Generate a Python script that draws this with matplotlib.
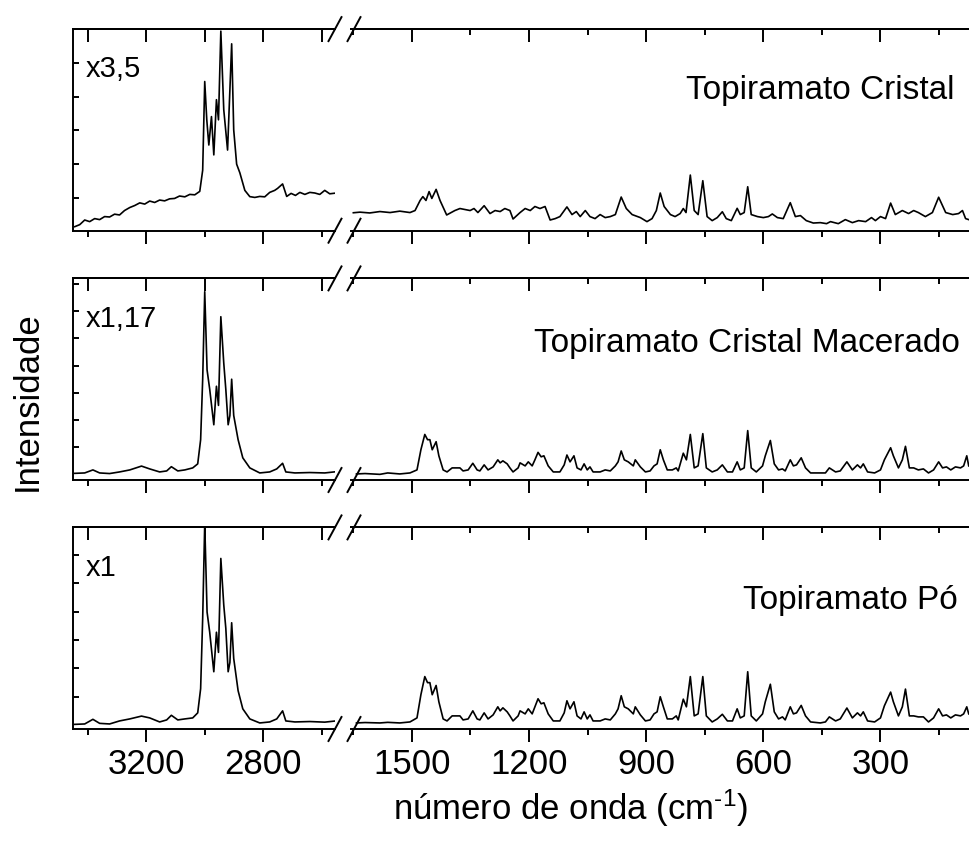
import matplotlib
matplotlib.use("Agg")
import matplotlib.pyplot as plt
from matplotlib.lines import Line2D

plt.rcParams["font.family"] = ["Liberation Sans", "DejaVu Sans"]
plt.rcParams["mathtext.fontset"] = "custom"
plt.rcParams["mathtext.rm"] = "Liberation Sans"
plt.rcParams["mathtext.it"] = "Liberation Sans:italic"


# Raman spectra (intensity scaled to panel height)

# CH stretching region, top panel (Topiramato Cristal)
wn_ch1 = [3444, 3427, 3410, 3393, 3376, 3359, 3342, 3325, 3308, 3291,
          3274, 3256, 3239, 3222, 3205, 3188, 3171, 3154, 3137, 3120,
          3103, 3086, 3068, 3051, 3034, 3017, 3007, 3000, 2993, 2986,
          2977, 2969, 2960, 2953, 2945, 2935, 2922, 2908, 2901, 2891,
          2880, 2863, 2846, 2829, 2812, 2795, 2778, 2761, 2751, 2734,
          2720, 2705, 2690, 2675, 2658, 2641, 2624, 2607, 2590, 2573,
          2556]
p1_ch = [0.02, 0.03, 0.053, 0.045, 0.06, 0.055, 0.07, 0.068, 0.082, 0.078,
         0.1, 0.115, 0.125, 0.138, 0.132, 0.147, 0.14, 0.152, 0.148, 0.158,
         0.16, 0.172, 0.168, 0.18, 0.178, 0.195, 0.3, 0.74, 0.55, 0.425,
         0.566, 0.376, 0.65, 0.55, 0.99, 0.6, 0.4, 0.927, 0.5, 0.33,
         0.287, 0.2, 0.169, 0.165, 0.17, 0.168, 0.19, 0.2, 0.21, 0.232,
         0.17, 0.185, 0.175, 0.19, 0.18, 0.19, 0.187, 0.18, 0.2, 0.183,
         0.186]

# CH stretching region, middle and bottom panels
wn_ch = [3444, 3410, 3382, 3359, 3325, 3291, 3256, 3216, 3188, 3154,
         3130, 3114, 3092, 3068, 3041, 3024, 3014, 3007, 3000, 2992,
         2983, 2969, 2960, 2953, 2945, 2935, 2928, 2920, 2914, 2908,
         2901, 2886, 2870, 2846, 2812, 2778, 2754, 2734, 2723, 2692,
         2641, 2590, 2552]
p2_ch = [0.033, 0.035, 0.05, 0.035, 0.032, 0.04, 0.05, 0.069, 0.055, 0.04,
         0.045, 0.066, 0.045, 0.05, 0.06, 0.08, 0.2, 0.5, 0.934, 0.546,
         0.45, 0.274, 0.465, 0.37, 0.81, 0.58, 0.45, 0.274, 0.32, 0.5,
         0.32, 0.2, 0.11, 0.06, 0.035, 0.04, 0.055, 0.083, 0.04, 0.035,
         0.037, 0.035, 0.041]
p3_ch = [0.023, 0.025, 0.048, 0.028, 0.025, 0.04, 0.05, 0.064, 0.055, 0.035,
         0.045, 0.068, 0.045, 0.05, 0.055, 0.08, 0.2, 0.55, 1.02, 0.58,
         0.48, 0.284, 0.48, 0.38, 0.846, 0.615, 0.5, 0.284, 0.33, 0.527,
         0.35, 0.19, 0.1, 0.05, 0.03, 0.035, 0.05, 0.09, 0.04, 0.035,
         0.037, 0.034, 0.04]

# fingerprint region, top panel
wn_fp1 = [1650, 1633, 1608, 1582, 1556, 1531, 1505, 1492, 1479, 1472,
          1464, 1456, 1449, 1438, 1428, 1411, 1390, 1377, 1351, 1341,
          1331, 1315, 1300, 1287, 1274, 1262, 1249, 1241, 1223, 1210,
          1197, 1185, 1172, 1159, 1146, 1133, 1121, 1103, 1090, 1079,
          1069, 1056, 1044, 1031, 1018, 1005, 992, 979, 964, 951,
          936, 915, 898, 885, 874, 864, 854, 838, 826, 813,
          805, 798, 787, 777, 767, 755, 744, 731, 718, 705,
          695, 682, 667, 659, 649, 640, 631, 615, 600, 587,
          577, 564, 549, 531, 518, 505, 490, 472, 454, 438,
          428, 408, 390, 372, 356, 338, 323, 313, 300, 287,
          274, 262, 244, 228, 215, 203, 185, 167, 151, 133,
          115, 100, 90, 82, 74]
p1_fp = [0.089, 0.092, 0.088, 0.095, 0.09, 0.097, 0.09, 0.1, 0.15, 0.169,
         0.15, 0.194, 0.16, 0.205, 0.15, 0.078, 0.1, 0.11, 0.1, 0.11,
         0.09, 0.124, 0.085, 0.1, 0.095, 0.11, 0.1, 0.058, 0.09, 0.11,
         0.1, 0.12, 0.11, 0.12, 0.053, 0.06, 0.07, 0.118, 0.08, 0.095,
         0.07, 0.1, 0.07, 0.06, 0.08, 0.065, 0.07, 0.08, 0.167, 0.11,
         0.08, 0.065, 0.045, 0.06, 0.1, 0.187, 0.12, 0.08, 0.07, 0.085,
         0.11, 0.09, 0.276, 0.1, 0.08, 0.248, 0.07, 0.05, 0.065, 0.094,
         0.06, 0.05, 0.111, 0.08, 0.09, 0.218, 0.08, 0.07, 0.065, 0.07,
         0.083, 0.065, 0.06, 0.139, 0.07, 0.075, 0.05, 0.038, 0.04, 0.035,
         0.045, 0.035, 0.055, 0.04, 0.05, 0.045, 0.065, 0.05, 0.07, 0.06,
         0.137, 0.08, 0.1, 0.085, 0.1, 0.09, 0.07, 0.09, 0.166, 0.09,
         0.08, 0.085, 0.1, 0.06, 0.055]

# fingerprint region, middle and bottom panels
wn_fp = [1642, 1620, 1582, 1562, 1531, 1505, 1487, 1477, 1467, 1460,
         1454, 1448, 1438, 1431, 1420, 1410, 1397, 1387, 1377, 1369,
         1356, 1344, 1333, 1326, 1315, 1305, 1292, 1280, 1274, 1267,
         1256, 1249, 1241, 1228, 1223, 1210, 1202, 1192, 1185, 1177,
         1169, 1162, 1151, 1138, 1121, 1110, 1103, 1095, 1085, 1077,
         1067, 1059, 1051, 1044, 1036, 1018, 1005, 992, 979, 972,
         964, 956, 946, 933, 928, 915, 902, 890, 880, 872,
         864, 856, 846, 833, 823, 818, 805, 797, 787, 777,
         767, 755, 746, 731, 718, 705, 692, 679, 667, 659,
         649, 640, 631, 618, 602, 595, 582, 572, 561, 551,
         544, 531, 523, 515, 503, 492, 479, 454, 441, 431,
         415, 403, 386, 372, 359, 351, 344, 333, 315, 300,
         290, 274, 267, 254, 244, 236, 226, 215, 203, 190,
         177, 164, 151, 141, 131, 120, 108, 95, 87, 79,
         74]
p2_fp = [0.03, 0.032, 0.028, 0.035, 0.03, 0.035, 0.05, 0.15, 0.226, 0.2,
         0.2, 0.15, 0.19, 0.12, 0.05, 0.04, 0.06, 0.06, 0.06, 0.045,
         0.05, 0.083, 0.05, 0.045, 0.075, 0.05, 0.065, 0.1, 0.085, 0.095,
         0.08, 0.06, 0.04, 0.06, 0.085, 0.07, 0.09, 0.07, 0.1, 0.137,
         0.115, 0.12, 0.07, 0.04, 0.04, 0.075, 0.124, 0.09, 0.12, 0.06,
         0.05, 0.08, 0.05, 0.065, 0.04, 0.04, 0.05, 0.045, 0.07, 0.09,
         0.144, 0.1, 0.09, 0.07, 0.1, 0.065, 0.04, 0.045, 0.07, 0.08,
         0.15, 0.1, 0.05, 0.05, 0.06, 0.045, 0.133, 0.1, 0.226, 0.06,
         0.07, 0.23, 0.06, 0.04, 0.05, 0.075, 0.04, 0.04, 0.09, 0.05,
         0.06, 0.245, 0.06, 0.04, 0.07, 0.12, 0.196, 0.08, 0.05, 0.055,
         0.045, 0.1, 0.07, 0.075, 0.11, 0.06, 0.035, 0.035, 0.035, 0.06,
         0.04, 0.045, 0.09, 0.05, 0.075, 0.06, 0.08, 0.04, 0.035, 0.05,
         0.1, 0.16, 0.12, 0.06, 0.1, 0.167, 0.06, 0.06, 0.05, 0.055,
         0.035, 0.05, 0.09, 0.06, 0.065, 0.05, 0.065, 0.06, 0.07, 0.12,
         0.07]
p3_fp = [0.03, 0.032, 0.03, 0.033, 0.03, 0.035, 0.055, 0.17, 0.26, 0.23,
         0.23, 0.17, 0.216, 0.135, 0.05, 0.04, 0.065, 0.065, 0.065, 0.045,
         0.05, 0.09, 0.05, 0.045, 0.08, 0.05, 0.07, 0.11, 0.09, 0.105,
         0.085, 0.065, 0.04, 0.065, 0.09, 0.075, 0.1, 0.075, 0.11, 0.15,
         0.125, 0.13, 0.075, 0.04, 0.04, 0.08, 0.14, 0.1, 0.135, 0.065,
         0.05, 0.085, 0.05, 0.07, 0.04, 0.04, 0.05, 0.045, 0.075, 0.1,
         0.165, 0.11, 0.1, 0.075, 0.11, 0.07, 0.04, 0.045, 0.075, 0.085,
         0.16, 0.11, 0.05, 0.05, 0.065, 0.045, 0.148, 0.11, 0.26, 0.065,
         0.075, 0.26, 0.065, 0.035, 0.05, 0.073, 0.04, 0.04, 0.1, 0.055,
         0.065, 0.284, 0.065, 0.04, 0.075, 0.135, 0.222, 0.085, 0.05, 0.06,
         0.045, 0.11, 0.075, 0.08, 0.117, 0.065, 0.035, 0.03, 0.035, 0.06,
         0.04, 0.05, 0.104, 0.055, 0.08, 0.065, 0.085, 0.04, 0.035, 0.055,
         0.115, 0.183, 0.135, 0.065, 0.11, 0.198, 0.065, 0.065, 0.06, 0.06,
         0.035, 0.055, 0.1, 0.065, 0.07, 0.055, 0.07, 0.065, 0.075, 0.11,
         0.075]

factors = ["x3,5", "x1,17", "x1"]
samples = ["Topiramato Cristal", "Topiramato Cristal Macerado", "Topiramato Pó"]

ch_ticks_major = [3200, 2800]
ch_ticks_minor = [3400, 3000, 2600]
fp_ticks_major = [1500, 1200, 900, 600, 300]
fp_ticks_minor = [1650, 1350, 1050, 750, 450, 150]

# left-axis tick marks (no labels) as they sit in each panel
y_ticks = [
    [0.164, 0.331, 0.498, 0.665, 0.831],
    [0.162, 0.297, 0.432, 0.567, 0.702, 0.836, 0.97],
    [0.16, 0.301, 0.441, 0.582, 0.722, 0.863],
]

rows = [
    (wn_ch1, p1_ch, wn_fp1, p1_fp),
    (wn_ch, p2_ch, wn_fp, p2_fp),
    (wn_ch, p3_ch, wn_fp, p3_fp),
]

# layout, in pixels of the 969x855 canvas
W, H = 969.0, 855.0
panel_bottom_px = [230.7, 480.0, 729.0]
panel_h_px = 201.6
left_x0, left_x1 = 73.0, 335.0
right_x0, right_x1 = 351.0, 969.5

name_pos = [(0.976, 0.652), (0.985, 0.635), (0.981, 0.595)]

fig = plt.figure(figsize=(W / 100, H / 100), dpi=100)

lw_axis = 1.4
lw_data = 1.2

for i, (wa, ya, wb, yb) in enumerate(rows):
    bottom = 1 - panel_bottom_px[i] / H
    height = panel_h_px / H
    ax_l = fig.add_axes([left_x0 / W, bottom, (left_x1 - left_x0) / W, height])
    ax_r = fig.add_axes([right_x0 / W, bottom, (right_x1 - right_x0) / W, height])

    ax_l.plot(wa, ya, color="black", lw=lw_data)
    ax_r.plot(wb, yb, color="black", lw=lw_data)

    ax_l.set_xlim(3450, 2555)
    ax_r.set_xlim(1656, 72)
    for ax in (ax_l, ax_r):
        ax.set_ylim(0, 1)
        for sp in ax.spines.values():
            sp.set_linewidth(lw_axis)
    ax_l.spines["right"].set_visible(False)
    ax_r.spines["left"].set_visible(False)

    ax_l.set_xticks(ch_ticks_major)
    ax_l.set_xticks(ch_ticks_minor, minor=True)
    ax_r.set_xticks(fp_ticks_major)
    ax_r.set_xticks(fp_ticks_minor, minor=True)

    ax_l.set_yticks(y_ticks[i])
    ax_l.tick_params(axis="y", direction="in", length=4, width=lw_axis,
                     labelleft=False, left=True, right=False)
    ax_r.tick_params(axis="y", left=False, right=False, labelleft=False)

    for ax in (ax_l, ax_r):
        ax.tick_params(axis="x", which="major", direction="out", length=9.5,
                       width=lw_axis, labelsize=25, pad=4,
                       labelbottom=(i == 2), top=False)
        ax.tick_params(axis="x", which="minor", direction="out", length=4.5,
                       width=lw_axis, top=False)
        # top axis ticks point into the panel
        sec = ax.secondary_xaxis("top")
        sec.spines["top"].set_linewidth(lw_axis)
        if ax is ax_l:
            sec.set_xticks(ch_ticks_major + ch_ticks_minor)
            sec.tick_params(which="major", direction="in", length=9.5,
                            width=lw_axis, labeltop=False)
        else:
            sec.set_xticks(fp_ticks_major)
            sec.set_xticks(fp_ticks_minor, minor=True)
            sec.tick_params(which="major", direction="in", length=9.5,
                            width=lw_axis, labeltop=False)
            sec.tick_params(which="minor", direction="in", length=4.5,
                            width=lw_axis)

    ax_l.text(0.05, 0.76, factors[i], transform=ax_l.transAxes,
              fontsize=21, ha="left", va="baseline")
    nx, ny = name_pos[i]
    ax_r.text(nx, ny, samples[i], transform=ax_r.transAxes,
              fontsize=24, ha="right", va="baseline")

    # axis break marks "//" on top and bottom spines
    for y_px in (panel_bottom_px[i], panel_bottom_px[i] - panel_h_px):
        for xc in (left_x1, right_x0 + 3):
            fig.add_artist(Line2D(
                [(xc - 6.5) / W, (xc + 6.5) / W],
                [1 - (y_px + 12) / H, 1 - (y_px - 12) / H],
                transform=fig.transFigure, color="black", lw=lw_axis))

fig.text(27 / W, 1 - 401 / H, "Intensidade", rotation=90,
         fontsize=25, ha="center", va="center")
fig.text(571 / W, 1 - 808 / H, r"número de onda (cm$^{\text{-1}}$)",
         fontsize=25, ha="center", va="center")

fig.savefig("out.png", dpi=100)
